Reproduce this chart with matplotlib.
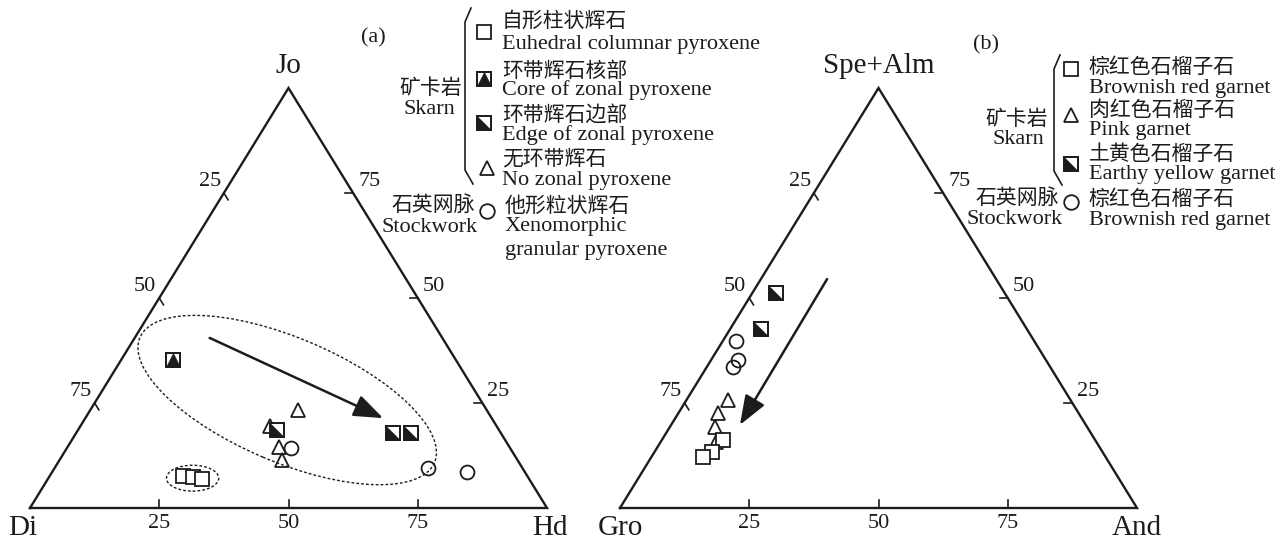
import matplotlib
matplotlib.use('Agg')
import matplotlib.pyplot as plt
import matplotlib.transforms as mtrans
from matplotlib.patches import Ellipse, FancyArrowPatch
from matplotlib.path import Path
from matplotlib.lines import Line2D
import numpy as np

W, H = 1288, 545
FAM = ['Liberation Serif', 'Noto Sans CJK SC']
INK = '#1c1c1c'
plt.rcParams['font.family'] = FAM

# ---------------- data (a): Di-Hd-Jo, values in % (Hd, Jo) ----------------
a_euh_hd = [25.8, 27.8, 29.8]
a_euh_jo = [7.6, 7.4, 6.9]
a_core_hd = [10.0]
a_core_jo = [35.2]
a_edge_hd = [38.5, 61.3, 64.8]
a_edge_jo = [18.6, 17.9, 17.9]
a_nz_hd = [40.2, 36.7, 40.9, 43.0]
a_nz_jo = [23.3, 19.5, 14.5, 11.4]
a_xen_hd = [43.3, 72.2, 80.3]
a_xen_jo = [14.3, 9.5, 8.6]

# ---------------- data (b): Gro-And-(Spe+Alm), values in % (And, Spe+Alm) ----------------
b_brown_and = [11.8, 11.1, 10.0]
b_brown_spe = [16.2, 13.3, 12.1]
b_pink_and = [8.0, 7.7, 8.7, 10.7]
b_pink_spe = [25.7, 22.6, 19.3, 15.7]
b_earthy_and = [4.6, 6.0]
b_earthy_spe = [51.2, 42.6]
b_stock_and = [2.6, 5.2, 5.1]
b_stock_spe = [39.8, 35.2, 33.6]

tick_vals = [25, 50, 75]
left_labels = ['75', '50', '25']    # at top-vertex fraction 25, 50, 75
right_labels = ['25', '50', '75']
bottom_labels = ['25', '50', '75']

# annotation helpers (ternary: right %, top %)
a_arrow = [(14.5, 40.5), (57.6, 21.4)]
b_arrow = [(12.8, 54.5), (13.3, 19.8)]
a_big_ell = dict(c=(36.9, 25.7), w=0.619, h=0.240, ang=-23)
a_small_ell = dict(c=(27.9, 7.1), w=0.101, h=0.050, ang=0)

HT = 420 / 517.0   # vertical scale of the drawn triangles


def xy(r, t):
    r = np.asarray(r, float) / 100.0
    t = np.asarray(t, float) / 100.0
    return r + t / 2.0, t * HT


fig = plt.figure(figsize=(W / 100, H / 100), dpi=100)
pix = mtrans.Affine2D().scale(1.0 / W, -1.0 / H).translate(0, 1) + fig.transFigure

axA = fig.add_axes([0, 0, 1, 1])
axB = fig.add_axes([0, 0, 1, 1])
for ax in (axA, axB):
    ax.set_axis_off()
    ax.patch.set_alpha(0)
axA.set_xlim(-30 / 517, (W - 30) / 517)
axB.set_xlim(-620 / 517, (W - 620) / 517)
for ax in (axA, axB):
    ax.set_ylim(-37 / 517, 508 / 517)

TRI_UP = Path([(0, 1), (-1, -1), (1, -1), (0, 1)])
TRI_LL = Path([(-1, 1), (-1, -1), (1, -1), (-1, 1)])
MS = 10.5


def open_square(ax, x, y, **kw):
    ax.plot(x, y, ls='none', marker='s', ms=MS, mfc='white', mec=INK, mew=1.3, zorder=5, **kw)


def half_square(ax, x, y, path, **kw):
    ax.plot(x, y, ls='none', marker='s', ms=MS, mfc='white', mec=INK, mew=1.3, zorder=5, **kw)
    ax.plot(x, y, ls='none', marker=path, ms=MS, mfc=INK, mec=INK, mew=0.3, zorder=6, **kw)
    ax.plot(x, y, ls='none', marker='s', ms=MS, mfc='none', mec=INK, mew=1.3, zorder=7, **kw)


def triangle(ax, x, y, **kw):
    ax.plot(x, y, ls='none', marker='^', ms=10.5, mfc='none', mec=INK, mew=1.3, zorder=4, **kw)


def circle(ax, x, y, **kw):
    ax.plot(x, y, ls='none', marker='o', ms=10, mfc='none', mec=INK, mew=1.3, zorder=4, **kw)


def frame(ax, top):
    X = [0, 1, 0.5, 0]
    Y = [0, 0, HT, 0]
    ax.plot(X, Y, color=INK, lw=1.7, solid_joinstyle='miter', zorder=2)
    tl = 8 / 517.0
    for i, v in enumerate(tick_vals):
        f = v / 100.0
        # bottom ticks
        ax.plot([f, f], [0, tl], color=INK, lw=1.2)
        ax.annotate(bottom_labels[i], (f, 0), xytext=(0, -16), textcoords='offset pixels',
                    ha='center', va='center', fontsize=16, color=INK)
        # left edge ticks (point with top fraction f)
        lx, ly = f / 2, f * HT
        d = np.array([0.5, -HT]); d = d / np.hypot(*d)
        ax.plot([lx, lx + d[0] * tl], [ly, ly + d[1] * tl], color=INK, lw=1.2)
        ax.annotate(left_labels[i], (lx, ly), xytext=(-14, 11), textcoords='offset pixels',
                    ha='center', va='center', fontsize=16, color=INK)
        # right edge ticks
        rx, ry = 1 - f / 2, f * HT
        ax.plot([rx, rx - tl], [ry, ry], color=INK, lw=1.2)
        ax.annotate(right_labels[i], (rx, ry), xytext=(16, 11), textcoords='offset pixels',
                    ha='center', va='center', fontsize=16, color=INK)
    ax.annotate(top, (0.5, HT), xytext=(0, 22), textcoords='offset pixels',
                ha='center', va='center', fontsize=21, color=INK)


frame(axA, 'Jo')
frame(axB, 'Spe+Alm')
for ax, name, dx in [(axA, 'Di', -7), (axB, 'Gro', 0)]:
    ax.annotate(name, (0, 0), xytext=(dx, -20), textcoords='offset pixels',
                ha='center', va='center', fontsize=21, color=INK)
for ax, name, dx in [(axA, 'Hd', 3), (axB, 'And', 0)]:
    ax.annotate(name, (1, 0), xytext=(dx, -20), textcoords='offset pixels',
                ha='center', va='center', fontsize=21, color=INK)

# ---- (a) annotations ----
for e in (a_big_ell, a_small_ell):
    cx, cy = xy(*e['c'])
    axA.add_patch(Ellipse((cx, cy), e['w'], e['h'], angle=e['ang'], fill=False,
                          ec=INK, lw=1.0, ls=(0, (2, 1.5)), zorder=3))

for ax, arr in ((axA, a_arrow), (axB, b_arrow)):
    p0 = xy(*arr[0]); p1 = xy(*arr[1])
    ax.add_patch(FancyArrowPatch((float(p0[0]), float(p0[1])), (float(p1[0]), float(p1[1])),
                                 arrowstyle='-|>,head_length=0.9,head_width=0.34',
                                 mutation_scale=20, lw=1.8, color=INK,
                                 shrinkA=0, shrinkB=0, zorder=3))

# ---- (a) points ----
triangle(axA, *xy(a_nz_hd, a_nz_jo))
circle(axA, *xy(a_xen_hd, a_xen_jo))
open_square(axA, *xy(a_euh_hd, a_euh_jo))
half_square(axA, *xy(a_core_hd, a_core_jo), TRI_UP)
half_square(axA, *xy(a_edge_hd, a_edge_jo), TRI_LL)

# ---- (b) points ----
circle(axB, *xy(b_stock_and, b_stock_spe))
triangle(axB, *xy(b_pink_and, b_pink_spe))
open_square(axB, *xy(b_brown_and, b_brown_spe))
half_square(axB, *xy(b_earthy_and, b_earthy_spe), TRI_LL)

# ---------------- legends (pixel layout) ----------------
def ptext(x, y, s, size=16, ha='left'):
    fig.text(x, y, s, transform=pix, ha=ha, va='center', fontsize=size, color=INK)


def pmark(kind, x, y):
    kw = dict(transform=pix, ls='none', ms=MS, mec=INK, mew=1.3, clip_on=False)
    if kind == 'sq':
        fig.add_artist(Line2D([x], [y], marker='s', mfc='white', **kw))
    elif kind in ('core', 'edge'):
        fig.add_artist(Line2D([x], [y], marker='s', mfc='white', **kw))
        k2 = dict(kw); k2['mew'] = 0.3
        fig.add_artist(Line2D([x], [y], marker=TRI_UP if kind == 'core' else TRI_LL, mfc=INK, **k2))
        fig.add_artist(Line2D([x], [y], marker='s', mfc='none', **kw))
    elif kind == 'tri':
        fig.add_artist(Line2D([x], [y], marker='^', mfc='none', **kw))
    elif kind == 'cir':
        fig.add_artist(Line2D([x], [y], marker='o', mfc='none', **kw))


def brace(x0, y0, y1):
    fig.add_artist(Line2D([x0 + 6, x0, x0, x0 + 8], [y0, y0 + 14, y1 - 14, y1],
                          transform=pix, color=INK, lw=1.2))


# (a)
ptext(373, 38, '(a)', 16, 'center')
brace(465, 8, 184)
ptext(431, 89, '矿卡岩', 15, 'center')
ptext(429, 110, 'Skarn', 16, 'center')
ptext(433, 206, '石英网脉', 15, 'center')
ptext(430, 228, 'Stockwork', 16, 'center')
legA = [('sq', 32, [('自形柱状辉石', 22), ('Euhedral columnar pyroxene', 44)]),
        ('core', 79, [('环带辉石核部', 72), ('Core of zonal pyroxene', 90)]),
        ('edge', 123, [('环带辉石边部', 116), ('Edge of zonal pyroxene', 135)]),
        ('tri', 168, [('无环带辉石', 160), ('No zonal pyroxene', 181)]),
        ('cir', 211, [('他形粒状辉石', 207), ('Xenomorphic', 227), ('granular pyroxene', 251)])]
for kind, my, lines in legA:
    pmark(kind, 484 if kind not in ('tri', 'cir') else 487, my)
    for s, yy in lines:
        is_cn = ord(s[0]) > 0x2000
        ptext(502 if kind != 'cir' else 505, yy, s, 15 if is_cn else 16)

# (b)
ptext(986, 45, '(b)', 16, 'center')
brace(1054, 55, 185)
ptext(1017, 120, '矿卡岩', 15, 'center')
ptext(1018, 139, 'Skarn', 16, 'center')
ptext(1017, 199, '石英网脉', 15, 'center')
ptext(1015, 219, 'Stockwork', 16, 'center')
legB = [('sq', 69, [('棕红色石榴子石', 68), ('Brownish red garnet', 88)]),
        ('tri', 115, [('肉红色石榴子石', 111), ('Pink garnet', 130)]),
        ('edge', 164, [('土黄色石榴子石', 155), ('Earthy yellow garnet', 175)]),
        ('cir', 202, [('棕红色石榴子石', 200), ('Brownish red garnet', 220)])]
for kind, my, lines in legB:
    pmark(kind, 1071, my)
    for s, yy in lines:
        is_cn = ord(s[0]) > 0x2000
        ptext(1089, yy, s, 15 if is_cn else 16)

fig.savefig('out.png', dpi=100)
